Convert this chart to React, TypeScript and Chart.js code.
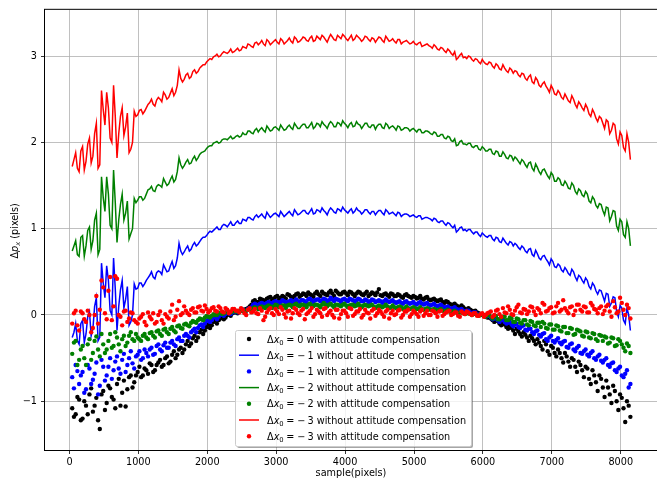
import React, { useEffect, useRef } from 'react';
import { Chart, registerables } from 'chart.js';
Chart.register(...registerables);

const SAMPLES = [
  40, 90, 140, 190, 240, 290, 340, 390, 440, 490,
  540, 590, 640, 690, 740, 790, 840, 890, 940, 990,
  1040, 1090, 1140, 1190, 1240, 1290, 1340, 1390, 1440, 1490,
  1540, 1590, 1640, 1690, 1740, 1790, 1840, 1890, 1940, 1990,
  2040, 2090, 2140, 2190, 2240, 2290, 2340, 2390, 2440, 2490,
  2540, 2590, 2640, 2690, 2740, 2790, 2840, 2890, 2940, 2990,
  3040, 3090, 3140, 3190, 3240, 3290, 3340, 3390, 3440, 3490,
  3540, 3590, 3640, 3690, 3740, 3790, 3840, 3890, 3940, 3990,
  4040, 4090, 4140, 4190, 4240, 4290, 4340, 4390, 4440, 4490,
  4540, 4590, 4640, 4690, 4740, 4790, 4840, 4890, 4940, 4990,
  5040, 5090, 5140, 5190, 5240, 5290, 5340, 5390, 5440, 5490,
  5540, 5590, 5640, 5690, 5740, 5790, 5840, 5890, 5940, 5990,
  6040, 6090, 6140, 6190, 6240, 6290, 6340, 6390, 6440, 6490,
  6540, 6590, 6640, 6690, 6740, 6790, 6840, 6890, 6940, 6990,
  7040, 7090, 7140, 7190, 7240, 7290, 7340, 7390, 7440, 7490,
  7540, 7590, 7640, 7690, 7740, 7790, 7840, 7890, 7940, 7990,
  8040, 8090, 8140,
];
const SAMPLES_B = [
  65, 115, 165, 215, 265, 315, 365, 415, 465, 515,
  565, 615, 665, 715, 765, 815, 865, 915, 965, 1015,
  1065, 1115, 1165, 1215, 1265, 1315, 1365, 1415, 1465, 1515,
  1565, 1615, 1665, 1715, 1765, 1815, 1865, 1915, 1965, 2015,
  2065, 2115, 2165, 2215, 2265, 2315, 2365, 2415, 2465, 2515,
  2565, 2615, 2665, 2715, 2765, 2815, 2865, 2915, 2965, 3015,
  3065, 3115, 3165, 3215, 3265, 3315, 3365, 3415, 3465, 3515,
  3565, 3615, 3665, 3715, 3765, 3815, 3865, 3915, 3965, 4015,
  4065, 4115, 4165, 4215, 4265, 4315, 4365, 4415, 4465, 4515,
  4565, 4615, 4665, 4715, 4765, 4815, 4865, 4915, 4965, 5015,
  5065, 5115, 5165, 5215, 5265, 5315, 5365, 5415, 5465, 5515,
  5565, 5615, 5665, 5715, 5765, 5815, 5865, 5915, 5965, 6015,
  6065, 6115, 6165, 6215, 6265, 6315, 6365, 6415, 6465, 6515,
  6565, 6615, 6665, 6715, 6765, 6815, 6865, 6915, 6965, 7015,
  7065, 7115, 7165, 7215, 7265, 7315, 7365, 7415, 7465, 7515,
  7565, 7615, 7665, 7715, 7765, 7815, 7865, 7915, 7965, 8015,
  8065, 8115,
];

// dx0 = 0 with attitude compensation (black dots)
const COMP_0 = [
  -1.08, -1.15, -0.98, -1.20, -1.05, -0.92, -1.12, -0.96, -1.32, -0.88,
  -1.02, -0.85, -0.98, -0.80, -1.05, -0.76, -0.86, -0.70, -0.78, -0.66,
  -0.72, -0.62, -0.68, -0.58, -0.64, -0.55, -0.60, -0.50, -0.56, -0.46,
  -0.50, -0.40, -0.44, -0.34, -0.36, -0.27, -0.30, -0.20, -0.22, -0.14,
  -0.15, -0.08, -0.10, -0.04, -0.05, 0.00, -0.01, 0.03, 0.02, 0.05,
  0.06, 0.08, 0.12, 0.17, 0.15, 0.18, 0.16, 0.20, 0.17, 0.21,
  0.18, 0.22, 0.19, 0.23, 0.20, 0.24, 0.21, 0.25, 0.22, 0.24,
  0.21, 0.27, 0.22, 0.25, 0.23, 0.28, 0.22, 0.26, 0.24, 0.27,
  0.23, 0.26, 0.22, 0.27, 0.24, 0.25, 0.22, 0.26, 0.23, 0.30,
  0.22, 0.25, 0.21, 0.24, 0.22, 0.23, 0.20, 0.24, 0.21, 0.22,
  0.19, 0.22, 0.18, 0.21, 0.17, 0.19, 0.16, 0.18, 0.14, 0.15,
  0.12, 0.13, 0.10, 0.11, 0.07, 0.08, 0.05, 0.05, 0.02, 0.01,
  -0.02, -0.03, -0.06, -0.05, -0.10, -0.09, -0.14, -0.12, -0.18, -0.16,
  -0.22, -0.20, -0.26, -0.24, -0.30, -0.28, -0.36, -0.30, -0.42, -0.36,
  -0.44, -0.40, -0.50, -0.44, -0.54, -0.50, -0.60, -0.54, -0.64, -0.60,
  -0.74, -0.64, -0.78, -0.70, -0.84, -0.76, -0.92, -0.82, -1.00, -0.92,
  -1.08, -1.00, -1.18,
];
const COMP_0_B = [
  -1.18, -0.95, -1.22, -1.00, -1.15, -0.85, -1.05, -1.22, -0.92, -1.10,
  -0.82, -0.95, -1.08, -0.74, -0.90, -1.06, -0.72, -0.84, -0.70, -0.60,
  -0.70, -0.64, -0.56, -0.66, -0.58, -0.52, -0.58, -0.48, -0.54, -0.42,
  -0.46, -0.38, -0.40, -0.30, -0.33, -0.24, -0.26, -0.17, -0.18, -0.11,
  -0.12, -0.06, -0.06, -0.02, -0.03, 0.01, 0.02, 0.03, 0.04, 0.06,
  0.07, 0.10, 0.16, 0.14, 0.19, 0.17, 0.19, 0.21, 0.19, 0.22,
  0.20, 0.21, 0.24, 0.21, 0.22, 0.25, 0.23, 0.24, 0.26, 0.23,
  0.25, 0.24, 0.27, 0.24, 0.26, 0.25, 0.28, 0.24, 0.26, 0.25,
  0.27, 0.24, 0.25, 0.26, 0.23, 0.27, 0.24, 0.25, 0.26, 0.23,
  0.24, 0.23, 0.25, 0.22, 0.24, 0.21, 0.23, 0.22, 0.20, 0.21,
  0.20, 0.19, 0.20, 0.18, 0.18, 0.17, 0.17, 0.15, 0.16, 0.13,
  0.12, 0.11, 0.09, 0.09, 0.06, 0.06, 0.04, 0.03, 0.01, 0.00,
  -0.03, -0.04, -0.08, -0.07, -0.12, -0.11, -0.16, -0.15, -0.22, -0.19,
  -0.25, -0.23, -0.30, -0.27, -0.34, -0.32, -0.40, -0.34, -0.46, -0.38,
  -0.48, -0.44, -0.55, -0.48, -0.60, -0.52, -0.66, -0.58, -0.72, -0.62,
  -0.80, -0.70, -0.88, -0.74, -0.95, -0.84, -1.02, -0.88, -1.10, -0.96,
  -1.24, -1.05,
];

// dx0 = -1 without attitude compensation (blue line)
const RAW_M1 = [
  -0.26, -0.10, -0.34, -0.06, -0.22, 0.04, -0.16, 0.20, -0.26, 0.37,
  0.57, 0.05, 0.66, -0.18, 0.29, 0.08, 0.33, -0.08, 0.36, 0.31,
  0.37, 0.36, 0.43, 0.50, 0.42, 0.51, 0.47, 0.54, 0.51, 0.62,
  0.57, 0.83, 0.70, 0.77, 0.74, 0.81, 0.80, 0.85, 0.90, 0.92,
  0.97, 0.98, 1.02, 0.99, 1.05, 1.02, 1.08, 1.04, 1.09, 1.06,
  1.10, 1.13, 1.11, 1.14, 1.13, 1.17, 1.12, 1.16, 1.15, 1.18,
  1.14, 1.17, 1.16, 1.20, 1.15, 1.19, 1.17, 1.21, 1.18, 1.20,
  1.17, 1.22, 1.19, 1.21, 1.16, 1.24, 1.19, 1.23, 1.20, 1.22,
  1.18, 1.23, 1.20, 1.21, 1.17, 1.22, 1.19, 1.20, 1.16, 1.21,
  1.18, 1.22, 1.17, 1.19, 1.15, 1.18, 1.16, 1.17, 1.14, 1.16,
  1.13, 1.15, 1.12, 1.13, 1.11, 1.12, 1.08, 1.09, 1.06, 1.07,
  1.03, 1.04, 0.98, 1.02, 0.99, 0.99, 0.96, 0.96, 0.93, 0.95,
  0.91, 0.92, 0.88, 0.90, 0.85, 0.89, 0.83, 0.85, 0.80, 0.81,
  0.76, 0.78, 0.72, 0.77, 0.68, 0.71, 0.64, 0.69, 0.62, 0.65,
  0.56, 0.59, 0.52, 0.55, 0.48, 0.53, 0.44, 0.46, 0.40, 0.43,
  0.33, 0.37, 0.28, 0.29, 0.22, 0.25, 0.10, 0.21, 0.04, 0.11,
  -0.06, 0.08, -0.18,
];
const RAW_M1_B = [
  -0.20, -0.30, -0.10, -0.32, -0.02, -0.24, 0.10, -0.30, 0.60, 0.20,
  0.40, 0.00, 0.30, 0.10, 0.40, 0.18, -0.12, 0.00, 0.30, 0.37,
  0.33, 0.40, 0.46, 0.44, 0.49, 0.50, 0.58, 0.50, 0.57, 0.54,
  0.66, 0.74, 0.73, 0.80, 0.76, 0.84, 0.82, 0.88, 0.90, 0.95,
  0.96, 1.00, 0.99, 1.03, 1.04, 1.05, 1.04, 1.07, 1.06, 1.11,
  1.09, 1.13, 1.10, 1.16, 1.15, 1.14, 1.19, 1.13, 1.17, 1.16,
  1.20, 1.14, 1.18, 1.17, 1.22, 1.16, 1.19, 1.21, 1.17, 1.23,
  1.18, 1.21, 1.24, 1.19, 1.21, 1.22, 1.18, 1.22, 1.25, 1.20,
  1.21, 1.18, 1.24, 1.20, 1.19, 1.22, 1.17, 1.20, 1.19, 1.21,
  1.16, 1.20, 1.18, 1.17, 1.19, 1.14, 1.17, 1.16, 1.15, 1.14,
  1.15, 1.11, 1.13, 1.12, 1.09, 1.11, 1.07, 1.09, 1.04, 1.06,
  1.01, 0.96, 1.01, 0.98, 0.97, 0.99, 0.94, 0.96, 0.91, 0.93,
  0.90, 0.92, 0.86, 0.89, 0.84, 0.86, 0.81, 0.84, 0.83, 0.78,
  0.80, 0.74, 0.76, 0.70, 0.75, 0.66, 0.68, 0.65, 0.58, 0.62,
  0.55, 0.57, 0.50, 0.52, 0.46, 0.50, 0.40, 0.44, 0.37, 0.40,
  0.30, 0.34, 0.24, 0.28, 0.16, 0.24, 0.14, 0.20, -0.02, 0.08,
  -0.10, 0.00,
];

// dx0 = -1 with attitude compensation (blue dots)
const COMP_M1 = [
  -0.72, -0.58, -0.80, -0.66, -0.86, -0.62, -0.75, -0.55, -0.82, -0.60,
  -0.70, -0.50, -0.64, -0.48, -0.68, -0.45, -0.58, -0.42, -0.62, -0.46,
  -0.52, -0.40, -0.48, -0.38, -0.45, -0.34, -0.42, -0.32, -0.38, -0.30,
  -0.36, -0.26, -0.30, -0.22, -0.26, -0.18, -0.20, -0.12, -0.14, -0.07,
  -0.08, -0.03, -0.05, 0.00, -0.01, 0.03, 0.01, 0.04, 0.03, 0.05,
  0.04, 0.07, 0.09, 0.13, 0.11, 0.14, 0.12, 0.15, 0.13, 0.16,
  0.13, 0.17, 0.14, 0.16, 0.13, 0.18, 0.15, 0.17, 0.14, 0.19,
  0.15, 0.18, 0.16, 0.19, 0.15, 0.20, 0.16, 0.18, 0.15, 0.19,
  0.16, 0.18, 0.15, 0.19, 0.16, 0.18, 0.14, 0.18, 0.15, 0.17,
  0.14, 0.18, 0.15, 0.17, 0.14, 0.16, 0.13, 0.16, 0.13, 0.15,
  0.12, 0.15, 0.12, 0.14, 0.11, 0.13, 0.10, 0.12, 0.09, 0.10,
  0.07, 0.09, 0.06, 0.07, 0.04, 0.05, 0.02, 0.03, 0.00, 0.01,
  -0.02, -0.01, -0.05, -0.03, -0.08, -0.05, -0.10, -0.08, -0.13, -0.10,
  -0.15, -0.12, -0.18, -0.16, -0.22, -0.18, -0.25, -0.21, -0.30, -0.24,
  -0.32, -0.27, -0.34, -0.30, -0.38, -0.33, -0.42, -0.36, -0.45, -0.40,
  -0.48, -0.42, -0.52, -0.46, -0.55, -0.50, -0.60, -0.55, -0.66, -0.60,
  -0.72, -0.64, -0.80,
];
const COMP_M1_B = [
  -0.85, -0.65, -0.70, -0.90, -0.58, -0.80, -0.68, -0.92, -0.52, -0.76,
  -0.60, -0.74, -0.54, -0.62, -0.52, -0.66, -0.50, -0.56, -0.48, -0.42,
  -0.50, -0.44, -0.40, -0.46, -0.36, -0.40, -0.35, -0.38, -0.32, -0.34,
  -0.28, -0.30, -0.24, -0.24, -0.20, -0.16, -0.15, -0.11, -0.10, -0.05,
  -0.06, -0.02, -0.02, 0.01, 0.01, 0.02, 0.03, 0.04, 0.04, 0.06,
  0.05, 0.08, 0.12, 0.12, 0.13, 0.13, 0.14, 0.14, 0.15, 0.15,
  0.15, 0.16, 0.15, 0.17, 0.16, 0.16, 0.17, 0.16, 0.18, 0.17,
  0.17, 0.18, 0.17, 0.18, 0.17, 0.18, 0.19, 0.17, 0.18, 0.17,
  0.19, 0.17, 0.17, 0.18, 0.16, 0.17, 0.16, 0.17, 0.16, 0.16,
  0.16, 0.16, 0.16, 0.15, 0.15, 0.14, 0.15, 0.14, 0.14, 0.13,
  0.14, 0.13, 0.13, 0.12, 0.12, 0.11, 0.11, 0.10, 0.09, 0.08,
  0.08, 0.07, 0.06, 0.05, 0.05, 0.03, 0.03, 0.01, 0.01, -0.01,
  -0.01, -0.03, -0.04, -0.06, -0.06, -0.08, -0.09, -0.11, -0.11, -0.14,
  -0.13, -0.17, -0.16, -0.20, -0.19, -0.23, -0.22, -0.28, -0.26, -0.30,
  -0.29, -0.32, -0.31, -0.37, -0.34, -0.40, -0.38, -0.44, -0.42, -0.46,
  -0.44, -0.50, -0.48, -0.53, -0.52, -0.58, -0.56, -0.64, -0.62, -0.70,
  -0.68, -0.84,
];

// dx0 = -2 without attitude compensation (green line)
const RAW_M2 = [
  0.74, 0.86, 0.68, 0.92, 0.80, 1.02, 0.86, 1.18, 0.76, 1.36,
  1.60, 1.04, 1.68, 0.84, 1.28, 1.10, 1.32, 0.94, 1.35, 1.33,
  1.37, 1.35, 1.45, 1.49, 1.43, 1.51, 1.48, 1.54, 1.52, 1.61,
  1.57, 1.82, 1.70, 1.77, 1.75, 1.81, 1.79, 1.86, 1.89, 1.93,
  1.96, 1.99, 2.01, 2.00, 2.04, 2.03, 2.07, 2.05, 2.08, 2.07,
  2.09, 2.13, 2.11, 2.14, 2.12, 2.17, 2.12, 2.16, 2.14, 2.18,
  2.14, 2.17, 2.15, 2.20, 2.15, 2.19, 2.16, 2.21, 2.17, 2.20,
  2.16, 2.22, 2.18, 2.21, 2.16, 2.24, 2.18, 2.23, 2.19, 2.22,
  2.17, 2.23, 2.19, 2.21, 2.16, 2.22, 2.18, 2.20, 2.15, 2.21,
  2.17, 2.22, 2.16, 2.19, 2.14, 2.18, 2.15, 2.17, 2.13, 2.16,
  2.12, 2.15, 2.11, 2.13, 2.10, 2.12, 2.07, 2.09, 2.05, 2.07,
  2.02, 2.04, 1.97, 2.02, 1.98, 1.99, 1.95, 1.96, 1.92, 1.95,
  1.90, 1.92, 1.87, 1.90, 1.84, 1.89, 1.82, 1.85, 1.79, 1.81,
  1.75, 1.78, 1.71, 1.77, 1.67, 1.71, 1.63, 1.69, 1.61, 1.65,
  1.55, 1.59, 1.51, 1.55, 1.47, 1.53, 1.43, 1.46, 1.39, 1.43,
  1.32, 1.37, 1.27, 1.29, 1.21, 1.25, 1.09, 1.21, 1.03, 1.11,
  0.93, 1.08, 0.80,
];
const RAW_M2_B = [
  0.80, 0.70, 0.90, 0.68, 0.98, 0.76, 1.10, 0.70, 1.60, 1.20,
  1.40, 1.00, 1.30, 1.10, 1.40, 1.18, 0.88, 1.00, 1.30, 1.37,
  1.33, 1.40, 1.46, 1.44, 1.49, 1.50, 1.58, 1.50, 1.57, 1.54,
  1.66, 1.74, 1.73, 1.80, 1.76, 1.84, 1.82, 1.88, 1.90, 1.95,
  1.96, 2.00, 1.99, 2.03, 2.04, 2.05, 2.04, 2.07, 2.06, 2.11,
  2.09, 2.13, 2.10, 2.16, 2.15, 2.14, 2.19, 2.13, 2.17, 2.16,
  2.20, 2.14, 2.18, 2.17, 2.22, 2.16, 2.19, 2.21, 2.17, 2.23,
  2.18, 2.21, 2.24, 2.19, 2.21, 2.22, 2.18, 2.22, 2.25, 2.20,
  2.21, 2.18, 2.24, 2.20, 2.19, 2.22, 2.17, 2.20, 2.19, 2.21,
  2.16, 2.20, 2.18, 2.17, 2.19, 2.14, 2.17, 2.16, 2.15, 2.14,
  2.15, 2.11, 2.13, 2.12, 2.09, 2.11, 2.07, 2.09, 2.04, 2.06,
  2.01, 1.96, 2.01, 1.98, 1.97, 1.99, 1.94, 1.96, 1.91, 1.93,
  1.90, 1.92, 1.86, 1.89, 1.84, 1.86, 1.81, 1.84, 1.83, 1.78,
  1.80, 1.74, 1.76, 1.70, 1.75, 1.66, 1.68, 1.65, 1.58, 1.62,
  1.55, 1.57, 1.50, 1.52, 1.46, 1.50, 1.40, 1.44, 1.37, 1.40,
  1.30, 1.34, 1.24, 1.28, 1.16, 1.24, 1.14, 1.20, 0.98, 1.08,
  0.90, 1.00,
];

// dx0 = -2 with attitude compensation (green dots)
const COMP_M2 = [
  -0.45, -0.30, -0.52, -0.36, -0.58, -0.28, -0.44, -0.25, -0.48, -0.34,
  -0.40, -0.22, -0.36, -0.26, -0.42, -0.24, -0.32, -0.20, -0.30, -0.26,
  -0.30, -0.22, -0.28, -0.20, -0.26, -0.18, -0.24, -0.16, -0.22, -0.14,
  -0.20, -0.12, -0.16, -0.10, -0.13, -0.07, -0.09, -0.04, -0.06, -0.01,
  -0.03, 0.01, 0.00, 0.03, 0.02, 0.04, 0.03, 0.05, 0.04, 0.05,
  0.04, 0.06, 0.06, 0.09, 0.07, 0.10, 0.08, 0.11, 0.08, 0.12,
  0.09, 0.11, 0.08, 0.12, 0.09, 0.13, 0.10, 0.12, 0.09, 0.13,
  0.10, 0.12, 0.09, 0.14, 0.10, 0.13, 0.09, 0.12, 0.10, 0.13,
  0.09, 0.12, 0.10, 0.13, 0.09, 0.12, 0.10, 0.12, 0.08, 0.11,
  0.09, 0.12, 0.08, 0.11, 0.08, 0.10, 0.07, 0.10, 0.07, 0.09,
  0.07, 0.09, 0.06, 0.08, 0.06, 0.07, 0.05, 0.07, 0.04, 0.06,
  0.03, 0.05, 0.02, 0.03, 0.01, 0.02, 0.00, 0.01, -0.01, 0.00,
  -0.02, 0.01, -0.04, -0.01, -0.05, -0.02, -0.06, -0.03, -0.08, -0.04,
  -0.09, -0.06, -0.11, -0.07, -0.12, -0.09, -0.14, -0.10, -0.16, -0.11,
  -0.17, -0.13, -0.19, -0.14, -0.21, -0.16, -0.22, -0.18, -0.24, -0.19,
  -0.26, -0.21, -0.28, -0.23, -0.30, -0.26, -0.32, -0.27, -0.35, -0.30,
  -0.38, -0.33, -0.44,
];
const COMP_M2_B = [
  -0.32, -0.58, -0.40, -0.50, -0.34, -0.52, -0.30, -0.40, -0.22, -0.44,
  -0.30, -0.38, -0.20, -0.34, -0.28, -0.36, -0.24, -0.28, -0.22, -0.28,
  -0.24, -0.26, -0.21, -0.24, -0.19, -0.22, -0.17, -0.20, -0.16, -0.18,
  -0.13, -0.15, -0.11, -0.12, -0.09, -0.08, -0.06, -0.05, -0.03, -0.02,
  -0.01, 0.00, 0.02, 0.01, 0.03, 0.03, 0.04, 0.04, 0.05, 0.05,
  0.05, 0.07, 0.08, 0.08, 0.09, 0.09, 0.10, 0.10, 0.10, 0.11,
  0.10, 0.11, 0.11, 0.11, 0.12, 0.11, 0.12, 0.11, 0.12, 0.11,
  0.12, 0.11, 0.12, 0.12, 0.12, 0.11, 0.12, 0.11, 0.12, 0.11,
  0.11, 0.12, 0.11, 0.11, 0.11, 0.11, 0.11, 0.10, 0.10, 0.10,
  0.10, 0.10, 0.09, 0.09, 0.09, 0.09, 0.08, 0.08, 0.08, 0.08,
  0.07, 0.07, 0.07, 0.07, 0.06, 0.06, 0.06, 0.05, 0.05, 0.04,
  0.04, 0.03, 0.03, 0.02, 0.02, 0.01, 0.01, 0.00, 0.00, -0.01,
  0.00, -0.02, -0.01, -0.05, -0.03, -0.02, -0.06, -0.04, -0.08, -0.05,
  -0.10, -0.06, -0.12, -0.08, -0.13, -0.09, -0.08, -0.15, -0.11, -0.17,
  -0.12, -0.18, -0.14, -0.21, -0.15, -0.23, -0.17, -0.19, -0.25, -0.20,
  -0.27, -0.22, -0.30, -0.24, -0.25, -0.33, -0.26, -0.36, -0.28, -0.34,
  -0.42, -0.36,
];

// dx0 = -3 without attitude compensation (red line)
const RAW_M3 = [
  1.72, 1.88, 1.66, 1.95, 1.78, 2.05, 1.84, 2.22, 1.74, 2.38,
  2.58, 2.05, 2.66, 1.82, 2.30, 2.08, 2.34, 1.92, 2.36, 2.32,
  2.38, 2.36, 2.44, 2.50, 2.42, 2.52, 2.47, 2.55, 2.52, 2.62,
  2.58, 2.84, 2.70, 2.78, 2.74, 2.82, 2.80, 2.86, 2.90, 2.93,
  2.97, 2.99, 3.02, 3.00, 3.05, 3.03, 3.08, 3.05, 3.09, 3.07,
  3.10, 3.14, 3.11, 3.15, 3.13, 3.18, 3.12, 3.17, 3.15, 3.19,
  3.14, 3.18, 3.16, 3.21, 3.15, 3.20, 3.17, 3.22, 3.18, 3.21,
  3.17, 3.23, 3.19, 3.22, 3.16, 3.25, 3.19, 3.24, 3.20, 3.23,
  3.18, 3.24, 3.20, 3.22, 3.17, 3.23, 3.19, 3.21, 3.16, 3.22,
  3.18, 3.23, 3.17, 3.20, 3.15, 3.19, 3.16, 3.18, 3.14, 3.17,
  3.13, 3.16, 3.12, 3.14, 3.11, 3.13, 3.08, 3.10, 3.06, 3.08,
  3.03, 3.05, 2.98, 3.03, 2.99, 3.00, 2.96, 2.97, 2.93, 2.96,
  2.91, 2.93, 2.88, 2.91, 2.85, 2.90, 2.83, 2.86, 2.80, 2.82,
  2.76, 2.79, 2.72, 2.78, 2.68, 2.72, 2.64, 2.70, 2.62, 2.66,
  2.56, 2.60, 2.52, 2.56, 2.48, 2.54, 2.44, 2.47, 2.40, 2.44,
  2.33, 2.38, 2.28, 2.30, 2.22, 2.26, 2.10, 2.22, 2.04, 2.12,
  1.94, 2.10, 1.80,
];
const RAW_M3_B = [
  1.80, 1.70, 1.90, 1.68, 1.98, 1.76, 2.10, 1.70, 2.60, 2.20,
  2.40, 2.00, 2.30, 2.10, 2.40, 2.18, 1.88, 2.00, 2.30, 2.37,
  2.33, 2.40, 2.46, 2.44, 2.49, 2.50, 2.58, 2.50, 2.57, 2.54,
  2.66, 2.74, 2.73, 2.80, 2.76, 2.84, 2.82, 2.88, 2.90, 2.95,
  2.96, 3.00, 2.99, 3.03, 3.04, 3.05, 3.04, 3.07, 3.06, 3.11,
  3.09, 3.13, 3.10, 3.16, 3.15, 3.14, 3.19, 3.13, 3.17, 3.16,
  3.20, 3.14, 3.18, 3.17, 3.22, 3.16, 3.19, 3.21, 3.17, 3.23,
  3.18, 3.21, 3.24, 3.19, 3.21, 3.22, 3.18, 3.22, 3.25, 3.20,
  3.21, 3.18, 3.24, 3.20, 3.19, 3.22, 3.17, 3.20, 3.19, 3.21,
  3.16, 3.20, 3.18, 3.17, 3.19, 3.14, 3.17, 3.16, 3.15, 3.14,
  3.15, 3.11, 3.13, 3.12, 3.09, 3.11, 3.07, 3.09, 3.04, 3.06,
  3.01, 2.96, 3.01, 2.98, 2.97, 2.99, 2.94, 2.96, 2.91, 2.93,
  2.90, 2.92, 2.86, 2.89, 2.84, 2.86, 2.81, 2.84, 2.83, 2.78,
  2.80, 2.74, 2.76, 2.70, 2.75, 2.66, 2.68, 2.65, 2.58, 2.62,
  2.55, 2.57, 2.50, 2.52, 2.46, 2.50, 2.40, 2.44, 2.37, 2.40,
  2.30, 2.34, 2.24, 2.28, 2.16, 2.24, 2.14, 2.20, 1.98, 2.08,
  1.90, 2.00,
];

// dx0 = -3 with attitude compensation (red dots)
const COMP_M3 = [
  -0.10, 0.05, -0.18, 0.02, -0.08, 0.00, -0.15, 0.22, 0.06, 0.32,
  -0.05, 0.44, 0.10, 0.42, -0.02, 0.04, -0.08, 0.03, -0.06, -0.10,
  -0.02, -0.08, 0.03, -0.05, -0.10, 0.00, -0.06, 0.01, -0.04, 0.12,
  -0.02, 0.16, 0.02, 0.05, 0.00, 0.08, 0.03, 0.10, 0.04, 0.07,
  0.05, 0.09, 0.04, 0.08, 0.03, 0.06, 0.04, 0.07, 0.05, 0.08,
  0.02, 0.06, 0.03, 0.07, 0.01, 0.05, -0.02, 0.06, 0.02, 0.07,
  0.01, 0.06, -0.03, 0.05, 0.02, 0.06, 0.00, 0.07, 0.01, 0.05,
  -0.02, 0.06, 0.02, 0.07, 0.00, 0.05, -0.03, 0.06, 0.01, 0.05,
  -0.02, 0.07, 0.01, 0.04, -0.03, 0.06, 0.02, 0.05, -0.01, 0.06,
  0.01, 0.04, -0.04, 0.05, 0.01, 0.06, 0.00, 0.04, -0.02, 0.05,
  0.01, 0.04, -0.01, 0.05, 0.00, 0.04, -0.02, 0.05, 0.01, 0.04,
  0.00, 0.03, -0.01, 0.04, 0.01, 0.03, 0.00, 0.02, -0.01, 0.02,
  0.00, 0.03, -0.02, 0.05, 0.01, 0.08, 0.02, 0.06, 0.00, 0.09,
  0.03, 0.07, 0.01, 0.10, 0.04, 0.08, 0.02, 0.12, 0.05, 0.09,
  0.03, 0.14, 0.06, 0.08, 0.02, 0.10, 0.05, 0.12, 0.04, 0.09,
  0.03, 0.11, 0.06, 0.08, 0.01, 0.10, 0.04, 0.16, 0.02, 0.20,
  0.06, 0.12, -0.04,
];
const COMP_M3_B = [
  0.02, -0.12, 0.04, -0.05, 0.05, -0.20, 0.00, -0.10, 0.40, 0.02,
  0.28, -0.06, 0.45, 0.00, -0.12, 0.05, -0.04, 0.02, -0.08, -0.04,
  0.01, -0.12, -0.02, 0.02, -0.08, 0.04, -0.10, -0.02, 0.04, -0.06,
  0.06, 0.00, 0.10, 0.02, 0.06, 0.03, 0.09, 0.05, 0.11, 0.03,
  0.08, 0.05, 0.10, 0.04, 0.08, 0.02, 0.07, 0.05, 0.03, 0.06,
  0.00, 0.08, 0.04, 0.02, 0.08, -0.06, 0.03, 0.08, 0.00, 0.04,
  0.09, 0.01, 0.04, -0.04, 0.08, 0.02, 0.05, -0.05, 0.03, 0.08,
  0.01, 0.04, -0.02, 0.08, 0.03, 0.00, 0.06, -0.04, 0.05, 0.02,
  0.08, -0.01, 0.04, 0.07, 0.00, 0.03, -0.04, 0.07, 0.02, 0.04,
  -0.02, 0.06, 0.02, 0.00, 0.05, -0.03, 0.04, 0.06, 0.01, 0.03,
  -0.02, 0.06, 0.02, 0.00, 0.05, 0.02, 0.04, -0.01, 0.03, 0.05,
  0.01, 0.03, -0.02, 0.02, 0.04, 0.01, 0.02, -0.01, 0.01, -0.02,
  0.02, 0.04, 0.00, 0.06, -0.02, 0.03, 0.10, 0.01, 0.05, 0.12,
  0.02, 0.06, 0.04, 0.09, 0.00, 0.06, 0.14, 0.04, 0.08, 0.02,
  0.10, 0.04, 0.17, 0.05, 0.09, 0.00, 0.12, 0.06, 0.10, 0.03,
  0.14, 0.07, 0.02, 0.10, 0.05, 0.12, -0.02, 0.09, 0.04, 0.14,
  0.00, 0.08,
];

const X_TICKS = [0, 1000, 2000, 3000, 4000, 5000, 6000, 7000, 8000];
const Y_TICKS = [-1, 0, 1, 2, 3];
const X_MIN = -355;
const X_MAX = 8555;
const Y_MIN = -1.564;
const Y_MAX = 3.535;

const X_TITLE = 'sample(pixels)';
const LEGEND_VALUES = ['0', '1', '1', '2', '2', '3', '3'];
const LEGEND_NEGATIVE = [false, true, true, true, true, true, true];
const LEGEND_TAILS = [
  ' with attitude compensation',
  ' without attitude compensation',
  ' with attitude compensation',
  ' without attitude compensation',
  ' with attitude compensation',
  ' without attitude compensation',
  ' with attitude compensation',
];

const FONT = 'DejaVu Sans';
const FS = 9.7;

type Part = { t: string; it?: boolean; sub?: boolean; gap?: number };

function partFont(p: Part) {
  return `${p.it ? 'italic ' : ''}${p.sub ? FS * 0.7 : FS}px "${FONT}"`;
}
function measureParts(ctx: CanvasRenderingContext2D, parts: Part[]) {
  let w = 0;
  for (const p of parts) {
    if (p.gap) { w += p.gap; continue; }
    ctx.font = partFont(p);
    w += ctx.measureText(p.t).width;
  }
  return w;
}
function drawParts(ctx: CanvasRenderingContext2D, parts: Part[], x: number, baseline: number) {
  let cx = x;
  ctx.textBaseline = 'alphabetic';
  ctx.textAlign = 'left';
  for (const p of parts) {
    if (p.gap) { cx += p.gap; continue; }
    ctx.font = partFont(p);
    ctx.fillText(p.t, cx, baseline + (p.sub ? 2 : 0));
    cx += ctx.measureText(p.t).width;
  }
}

function roundRect(ctx: CanvasRenderingContext2D, x: number, y: number, w: number, h: number, r: number) {
  ctx.beginPath();
  ctx.moveTo(x + r, y);
  ctx.lineTo(x + w - r, y);
  ctx.quadraticCurveTo(x + w, y, x + w, y + r);
  ctx.lineTo(x + w, y + h - r);
  ctx.quadraticCurveTo(x + w, y + h, x + w - r, y + h);
  ctx.lineTo(x + r, y + h);
  ctx.quadraticCurveTo(x, y + h, x, y + h - r);
  ctx.lineTo(x, y + r);
  ctx.quadraticCurveTo(x, y, x + r, y);
  ctx.closePath();
}

const fmtTick = (v: number | string) => String(v).replace('-', '\u2212');

export default function App() {
  const ref = useRef<HTMLCanvasElement | null>(null);

  useEffect(() => {
    const canvas = ref.current;
    if (!canvas) return;
    const pts = (a: number[], b: number[]) => {
      const out = SAMPLES.map((s, i) => ({ x: s, y: a[i] })).concat(SAMPLES_B.map((s, i) => ({ x: s, y: b[i] })));
      out.sort((p, q) => p.x - q.x);
      return out;
    };
    const dot = (a: number[], b: number[], color: string, order: number) => ({
      data: pts(a, b),
      showLine: false,
      pointRadius: 2.2,
      pointBorderWidth: 0,
      pointBackgroundColor: color,
      backgroundColor: color,
      borderColor: color,
      order,
    });
    const line = (a: number[], b: number[], color: string, order: number) => ({
      data: pts(a, b),
      showLine: true,
      borderColor: color,
      backgroundColor: color,
      borderWidth: 1.5,
      pointRadius: 0,
      tension: 0,
      order,
    });

    const legendItems = [
      { kind: 'dot', color: '#000000' },
      { kind: 'line', color: '#0000ff' },
      { kind: 'dot', color: '#0000ff' },
      { kind: 'line', color: '#008000' },
      { kind: 'dot', color: '#008000' },
      { kind: 'line', color: '#ff0000' },
      { kind: 'dot', color: '#ff0000' },
    ];

    const overlay = {
      id: 'overlay',
      afterDraw(chart: any) {
        const ctx: CanvasRenderingContext2D = chart.ctx;
        const a = chart.chartArea;
        ctx.save();
        ctx.strokeStyle = '#000';
        ctx.lineWidth = 1;
        ctx.strokeRect(a.left - 0.5, a.top - 0.5, a.right - a.left + 1, a.bottom - a.top + 1);

        ctx.fillStyle = '#000';
        ctx.font = `${FS}px "${FONT}"`;
        ctx.textAlign = 'center';
        ctx.textBaseline = 'middle';
        ctx.fillText(X_TITLE, (a.left + 659) / 2 - 1, 473);

        const yParts: Part[] = [{ t: '\u0394' }, { t: 'p', it: true }, { t: 'x', it: true, sub: true }, { t: ' (pixels)' }];
        const yw = measureParts(ctx, yParts);
        ctx.save();
        ctx.translate(14, (a.top + a.bottom) / 2 + 1);
        ctx.rotate(-Math.PI / 2);
        drawParts(ctx, yParts, -yw / 2, 3.5);
        ctx.restore();

        const lx = 235, ly = 330, lw = 236, lh = 116;
        ctx.save();
        ctx.beginPath();
        ctx.rect(0, 0, 700, 500);
        ctx.rect(lx, ly, lw, lh);
        ctx.clip('evenodd');
        roundRect(ctx, lx + 2, ly + 2, lw, lh, 2);
        ctx.fillStyle = 'rgba(77,77,77,0.5)';
        ctx.fill();
        ctx.restore();

        roundRect(ctx, lx + 0.5, ly + 0.5, lw, lh, 2);
        ctx.fillStyle = 'rgba(255,255,255,0.8)';
        ctx.fill();
        ctx.strokeStyle = '#cccccc';
        ctx.lineWidth = 1;
        ctx.stroke();

        legendItems.forEach((it, i) => {
          const cy = 339 + i * 16.2;
          if (it.kind === 'line') {
            ctx.strokeStyle = it.color;
            ctx.lineWidth = 1.5;
            ctx.beginPath();
            ctx.moveTo(239, cy);
            ctx.lineTo(259, cy);
            ctx.stroke();
          } else {
            ctx.fillStyle = it.color;
            ctx.beginPath();
            ctx.arc(249, cy, 2.2, 0, Math.PI * 2);
            ctx.fill();
          }
          ctx.fillStyle = '#000';
          const parts: Part[] = [{ t: '\u0394' }, { t: 'x', it: true }, { t: '0', sub: true }, { t: '', gap: 2.7 }, { t: '=' }, { t: '', gap: 2.7 }];
          if (LEGEND_NEGATIVE[i]) {
            parts.push({ t: '\u2212' }, { t: '', gap: 2.2 });
          }
          parts.push({ t: LEGEND_VALUES[i] }, { t: LEGEND_TAILS[i] });
          drawParts(ctx, parts, 267, cy + 3.5);
        });
        ctx.restore();
      },
    };

    const chart = new Chart(canvas, {
      type: 'line',
      data: {
        datasets: [
          dot(COMP_0, COMP_0_B, '#000000', 7),
          line(RAW_M1, RAW_M1_B, '#0000ff', 6),
          dot(COMP_M1, COMP_M1_B, '#0000ff', 5),
          line(RAW_M2, RAW_M2_B, '#008000', 4),
          dot(COMP_M2, COMP_M2_B, '#008000', 3),
          line(RAW_M3, RAW_M3_B, '#ff0000', 2),
          dot(COMP_M3, COMP_M3_B, '#ff0000', 1),
        ] as any,
      },
      options: {
        animation: false,
        responsive: false,
        devicePixelRatio: 1,
        layout: { padding: { top: 3, right: 6, left: 0, bottom: 0 } },
        plugins: { legend: { display: false }, tooltip: { enabled: false } },
        scales: {
          x: {
            type: 'linear',
            min: X_MIN,
            max: X_MAX,
            afterBuildTicks: (s: any) => {
              s.ticks = X_TICKS.map((v) => ({ value: v }));
            },
            afterFit: (s: any) => {
              s.height = 37;
            },
            grid: { color: '#b0b0b0', lineWidth: 0.8, tickColor: '#000', tickLength: 4, drawTicks: true },
            border: { display: false },
            ticks: {
              color: '#000',
              font: { family: `"${FONT}"`, size: FS },
              padding: 3,
              maxRotation: 0,
              autoSkip: false,
              callback: (v: any) => fmtTick(v),
            },
          },
          y: {
            type: 'linear',
            min: Y_MIN,
            max: Y_MAX,
            afterBuildTicks: (s: any) => {
              s.ticks = Y_TICKS.map((v) => ({ value: v }));
            },
            afterFit: (s: any) => {
              s.width = 45;
            },
            grid: { color: '#b0b0b0', lineWidth: 0.8, tickColor: '#000', tickLength: 4, drawTicks: true },
            border: { display: false },
            ticks: {
              color: '#000',
              font: { family: `"${FONT}"`, size: FS },
              padding: 4,
              autoSkip: false,
              callback: (v: any) => fmtTick(v),
            },
          },
        },
      } as any,
      plugins: [overlay],
    });
    return () => chart.destroy();
  }, []);

  return (
    <div style={{ position: 'fixed', left: 0, top: 0, width: 657, height: 487, overflow: 'hidden', background: '#fff' }}>
      <canvas ref={ref} width={665} height={487} style={{ display: 'block' }} />
    </div>
  );
}
